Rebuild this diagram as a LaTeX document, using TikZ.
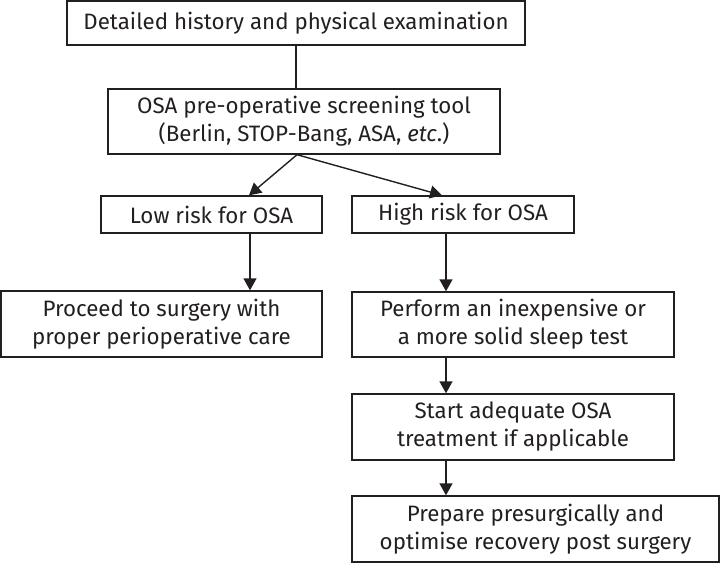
\documentclass[tikz,border=0pt]{standalone}
\usepackage{fontspec}
\setmainfont{Fira Sans}
\usetikzlibrary{arrows.meta,calc}
\definecolor{ink}{HTML}{231F20}
\begin{document}
\begin{tikzpicture}[x=1pt,y=-1pt,
  box/.style={draw=ink,line width=1.4pt,rectangle,inner sep=0pt,align=center,
    text=ink,font=\fontsize{22.3}{28}\selectfont},
  conn/.style={draw=ink,line width=1.4pt},
  arr/.style={conn,-{Triangle[width=13pt,length=12pt]}}]
\useasboundingbox (0,0) rectangle (720,563);
\node[box,minimum width=458pt,minimum height=44pt] (b1) at (296,23) {Detailed history and physical examination};
\node[box,minimum width=392pt,minimum height=65pt] (b2) at (304,121.5) {OSA pre-operative screening tool\\(Berlin, STOP-Bang, ASA, \textit{etc}.)};
\node[box,minimum width=221pt,minimum height=37pt] (low) at (211.5,214.5) {Low risk for OSA};
\node[box,minimum width=222pt,minimum height=37pt] (high) at (463,214.5) {High risk for OSA};
\node[box,minimum width=321pt,minimum height=66pt] (proc) at (161.5,324) {Proceed to surgery with\\proper perioperative care};
\node[box,minimum width=322pt,minimum height=65pt] (perf) at (513,324.5) {Perform an inexpensive or\\a more solid sleep test};
\node[box,minimum width=322pt,minimum height=66pt] (start) at (513,427) {Start adequate OSA\\treatment if applicable};
\node[box,minimum width=367pt,minimum height=66pt] (prep) at (535.5,529) {Prepare presurgically and\\optimise recovery post surgery};
\draw[conn] (b1.south) -- (b1.south |- b2.north);
\draw[arr] ($(b2.south)+(-7,0)$) -- ($(low.north)+(37.5,0)$);
\draw[arr] ($(b2.south)+(-7,0)$) -- ($(high.north)+(-21,0)$);
\draw[arr] ($(low.south)+(38.5,0)$) -- ($(proc.north)+(88.5,0)$);
\draw[arr] ($(high.south)+(-17,0)$) -- ($(perf.north)+(-67,0)$);
\draw[arr] ($(perf.south)+(-67,0)$) -- ($(start.north)+(-67,0)$);
\draw[arr] ($(start.south)+(-67,0)$) -- ($(prep.north)+(-89.5,0)$);
\end{tikzpicture}
\end{document}
